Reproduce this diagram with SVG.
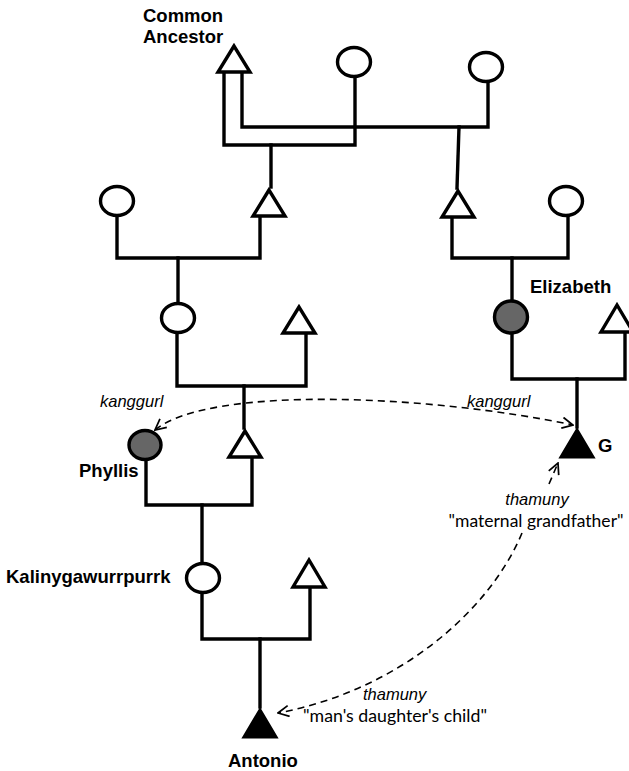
<svg xmlns="http://www.w3.org/2000/svg" width="629" height="771" viewBox="0 0 629 771">
<style>
.ln{fill:none;stroke:#000;stroke-width:3.4;stroke-linecap:square;stroke-linejoin:miter}
.f{fill:#fff;stroke:#000;stroke-width:3.4;stroke-linejoin:miter}
.g{fill:#666;stroke:#000;stroke-width:3.4}
.b{fill:#000;stroke:#000;stroke-width:3;stroke-linejoin:miter}
.dash{fill:none;stroke:#000;stroke-width:1.6;stroke-dasharray:7,5}
.nm{font-family:"Liberation Sans",Arial,sans-serif;font-weight:bold;font-size:18.5px;fill:#000}
.it{font-family:"Liberation Sans",Arial,sans-serif;font-style:italic;font-size:16.5px;fill:#000}
.gl{font-family:Lato,"Open Sans",sans-serif;font-size:17.5px;fill:#000}
</style>
<defs>
<marker id="ah" viewBox="0 0 12 12" refX="11" refY="6" markerWidth="13" markerHeight="13" markerUnits="userSpaceOnUse" orient="auto-start-reverse">
<path d="M1,1 L11,6 L1,11" fill="none" stroke="#000" stroke-width="1.6"/>
</marker>
</defs>
<g id="connectors">
<path class="ln" d="M224,73 V145 H355 V77"/>
<path class="ln" d="M242,73 V127 H488 V83"/>
<path class="ln" d="M271,145 V187"/>
<path class="ln" d="M459,127 L457,188"/>
<path class="ln" d="M117,216 V258 H260 V217"/>
<path class="ln" d="M178,258 V302"/>
<path class="ln" d="M452,218 V258 H568 V216"/>
<path class="ln" d="M512,258 V300"/>
<path class="ln" d="M177,333 V386 H306 V334"/>
<path class="ln" d="M244,386 V428"/>
<path class="ln" d="M512,333 V379 H625 V333"/>
<path class="ln" d="M577,379 V427"/>
<path class="ln" d="M146,460 V505 H252 V458"/>
<path class="ln" d="M202,505 V563"/>
<path class="ln" d="M202,593 V639 H310 V588"/>
<path class="ln" d="M260,639 V707"/>
<path class="dash" d="M155,430 C210,385 430,395 573,425" marker-start="url(#ah)" marker-end="url(#ah)"/>
<path class="dash" d="M549,484 L558,463" marker-end="url(#ah)"/>
<path class="dash" d="M522,533 C490,610 400,690 278,713" marker-end="url(#ah)"/>
</g>
<g id="common-ancestor"><polygon class="f" points="234,46 218,72 250,72"/><text class="nm" x="143" y="22">Common</text><text class="nm" x="143" y="43">Ancestor</text></g>
<g id="w1"><ellipse class="f" cx="354" cy="62" rx="16.5" ry="14.5"/></g>
<g id="w2"><ellipse class="f" cx="486" cy="67" rx="16.5" ry="14.5"/></g>
<g id="g2-left-w"><ellipse class="f" cx="117" cy="201" rx="16.5" ry="14.5"/></g>
<g id="g2-left-m"><polygon class="f" points="269,190 253,216 285,216"/></g>
<g id="g2-right-m"><polygon class="f" points="458,191 442,217 474,217"/></g>
<g id="g2-right-w"><ellipse class="f" cx="566" cy="201" rx="16.5" ry="14.5"/></g>
<g id="g3-left-w"><ellipse class="f" cx="178" cy="318" rx="16.5" ry="14.5"/></g>
<g id="g3-left-m"><polygon class="f" points="299,307 283,333 315,333"/></g>
<g id="elizabeth"><ellipse class="g" cx="511" cy="317" rx="16.5" ry="16"/><text class="nm" x="530" y="293">Elizabeth</text></g>
<g id="g3-right-m"><polygon class="f" points="617,305 601,332 633,332"/></g>
<g id="phyllis"><ellipse class="g" cx="145" cy="445" rx="16" ry="14.5"/><text class="nm" x="79" y="477">Phyllis</text></g>
<g id="g4-m"><polygon class="f" points="245,431 229,457 261,457"/></g>
<g id="g"><polygon class="b" points="577,430 561,457 593,457"/><text class="nm" x="598" y="452">G</text></g>
<g id="kalinygawurrpurrk"><ellipse class="f" cx="203" cy="578" rx="16.5" ry="14.5"/><text class="nm" x="6" y="583">Kalinygawurrpurrk</text></g>
<g id="g5-m"><polygon class="f" points="309,560 293,587 325,587"/></g>
<g id="antonio"><polygon class="b" points="260,710 244,737 276,737"/><text class="nm" x="228" y="767">Antonio</text></g>
<g id="labels">
<text class="it" x="100" y="407">kanggurl</text>
<text class="it" x="467" y="407">kanggurl</text>
<text class="it" x="537" y="505" text-anchor="middle">thamuny</text>
<text class="gl" x="536" y="527" text-anchor="middle" textLength="175" lengthAdjust="spacingAndGlyphs">"maternal grandfather"</text>
<text class="it" x="363" y="700">thamuny</text>
<text class="gl" x="303" y="722" textLength="184" lengthAdjust="spacingAndGlyphs">"man's daughter's child"</text>
</g>
</svg>
